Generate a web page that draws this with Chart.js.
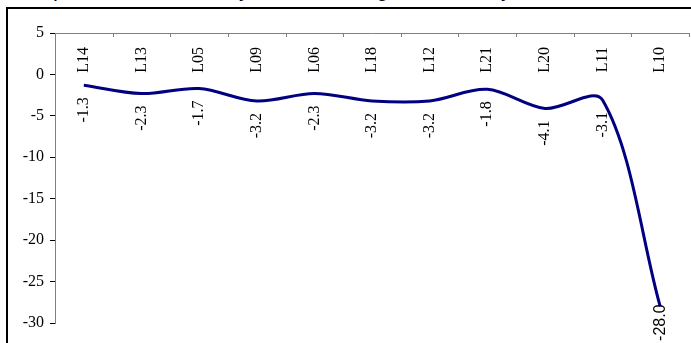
<!DOCTYPE html>
<html>
<head>
<meta charset="utf-8">
<script src="https://cdn.jsdelivr.net/npm/chart.js@4/dist/chart.umd.min.js"></script>
<style>
  html, body { margin: 0; padding: 0; background: #fff; overflow: hidden; }
  #wrap { position: relative; width: 691px; height: 343px; overflow: hidden; }
  #title { position: absolute; left: 0; width: 691px; top: -24px; text-align: center;
           font-family: "Liberation Sans", Arial, sans-serif; font-size: 22px; color: #000; white-space: nowrap; }
  #frame { position: absolute; left: 6px; top: 7px; width: 700px; height: 350px;
           border-left: 2px solid #000; border-top: 2px solid #000; box-sizing: border-box; background: transparent; }
  canvas { position: absolute; left: 0; top: 0; }
</style>
</head>
<body>
<div id="wrap">
  <div id="title">Implementation of only HEL reducing HCS to only to some extent</div>
  <div id="frame"></div>
  <canvas id="c" width="691" height="343"></canvas>
</div>
<script>
const categories = ["L14","L13","L05","L09","L06","L18","L12","L21","L20","L11","L10"];
const values = [-1.3, -2.3, -1.7, -3.2, -2.3, -3.2, -3.2, -1.8, -4.1, -3.1, -28.0];
const yTicks = [5, 0, -5, -10, -15, -20, -25, -30];

const serif = '"Liberation Serif", "Times New Roman", serif';
const sans = '"Liberation Sans", Arial, sans-serif';

const labelPlugin = {
  id: 'labels',
  afterDatasetsDraw(chart) {
    const ctx = chart.ctx;
    const xs = chart.scales.x;
    const area = chart.chartArea;
    ctx.save();
    // category tick marks (pointing into the plot) and rotated category labels
    ctx.strokeStyle = '#808080';
    ctx.lineWidth = 1;
    for (let i = 0; i <= categories.length; i++) {
      const px = Math.round(xs.getPixelForValue(i - 0.5)) + 0.5;
      ctx.beginPath();
      ctx.moveTo(px, area.top);
      ctx.lineTo(px, area.top + 4);
      ctx.stroke();
    }
    ctx.fillStyle = '#000';
    ctx.font = '16px ' + serif;
    categories.forEach((c, i) => {
      const px = xs.getPixelForValue(i);
      ctx.save();
      ctx.translate(px, area.top + 14);
      ctx.rotate(-Math.PI / 2);
      ctx.textAlign = 'right';
      ctx.textBaseline = 'middle';
      ctx.fillText(c, 0, 0);
      ctx.restore();
    });
    // data labels
    const meta = chart.getDatasetMeta(0);
    meta.data.forEach((pt, i) => {
      const last = i === meta.data.length - 1;
      ctx.save();
      ctx.translate(pt.x, pt.y + (last ? -2 : 12));
      ctx.rotate(-Math.PI / 2);
      ctx.font = '16px ' + (last ? sans : serif);
      ctx.textAlign = 'right';
      ctx.textBaseline = 'middle';
      ctx.fillStyle = '#000';
      ctx.fillText(values[i].toFixed(1), 0, 0);
      ctx.restore();
    });
    ctx.restore();
  }
};

new Chart(document.getElementById('c'), {
  type: 'line',
  data: {
    labels: categories,
    datasets: [{
      data: values,
      borderColor: '#000080',
      borderWidth: 3,
      pointRadius: 0,
      tension: 0.33,
      fill: false
    }]
  },
  options: {
    responsive: false,
    animation: false,
    layout: { padding: { left: 0, right: 2, top: 0, bottom: 20 } },
    plugins: { legend: { display: false }, tooltip: { enabled: false } },
    scales: {
      x: {
        position: 'top',
        offset: true,
        grid: { display: false, drawTicks: false },
        border: { display: true, color: '#808080', width: 1 },
        ticks: { display: false },
        afterFit(s) { s.height = 33; }
      },
      y: {
        min: -30, max: 5,
        afterBuildTicks(s) { s.ticks = yTicks.map(v => ({ value: v })); },
        grid: { display: true, drawOnChartArea: false, tickLength: 5, color: '#000', tickColor: '#000' },
        border: { display: true, color: '#808080', width: 1 },
        ticks: { color: '#000', font: { family: serif, size: 16 }, padding: 6 },
        afterFit(s) { s.width = 55; }
      }
    }
  },
  plugins: [labelPlugin]
});
</script>
</body>
</html>
